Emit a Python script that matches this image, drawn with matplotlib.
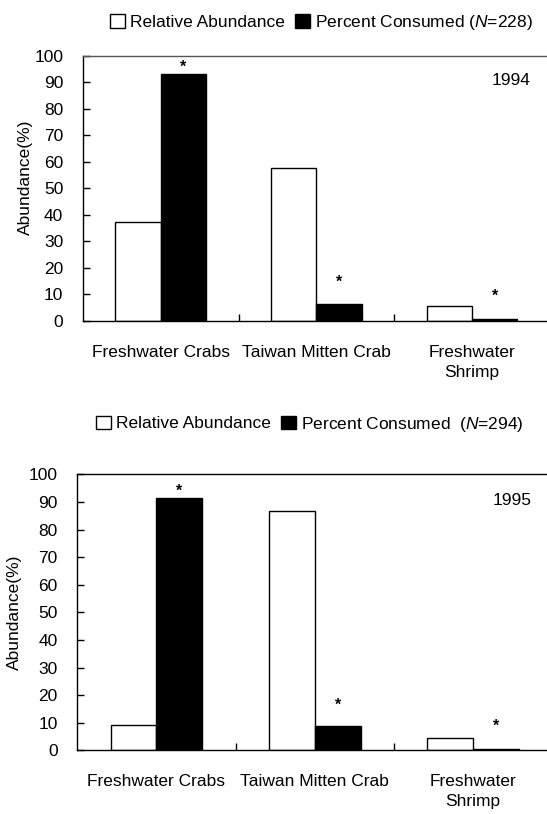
import matplotlib
matplotlib.use("Agg")
import matplotlib.pyplot as plt
from matplotlib.patches import Patch
import numpy as np

plt.rcParams['font.family'] = ['Liberation Sans', 'DejaVu Sans']
plt.rcParams['mathtext.fontset'] = 'custom'
plt.rcParams['mathtext.it'] = 'Liberation Sans:italic'
plt.rcParams['mathtext.rm'] = 'Liberation Sans'

categories = ["Freshwater Crabs", "Taiwan Mitten Crab", "Freshwater\nShrimp"]
years = ["1994", "1995"]
n_values = [228, 294]
abundance_1994 = [37.4, 57.6, 5.5]
consumed_1994 = [93.2, 6.3, 0.9]
abundance_1995 = [9.3, 86.6, 4.6]
consumed_1995 = [91.3, 8.8, 0.5]
stars_1994 = [95.6, 14.5, 9.4]
stars_1995 = [94.0, 16.4, 8.8]

FS = 12.5
fig = plt.figure(figsize=(5.47, 8.14), dpi=100)
W, H = 547, 814

def px_axes(l, t, r, b):
    return fig.add_axes([l / W, 1 - b / H, (r - l) / W, (b - t) / H])

panels = [
    dict(rect=(82.7, 55.7, 550.1, 321.0), ab=abundance_1994, co=consumed_1994,
         st=stars_1994, year=years[0], n=n_values[0], leg_y=22.7, leg_x=110,
         ylab=(-0.106, 0.54), spine="#555555", nsep=" "),
    dict(rect=(77.3, 474.3, 552.3, 750.3), ab=abundance_1995, co=consumed_1995,
         st=stars_1995, year=years[1], n=n_values[1], leg_y=424, leg_x=96,
         ylab=(-0.116, 0.5), spine="black", nsep="  "),
]

x = np.arange(len(categories))
bw = 0.29
for p in panels:
    ax = px_axes(*p["rect"])
    ax.bar(x - bw / 2, p["ab"], bw, color="white", edgecolor="black", linewidth=1.0)
    ax.bar(x + bw / 2, p["co"], bw, color="black", edgecolor="black", linewidth=1.0)
    for xi, sy in zip(x, p["st"]):
        ax.text(xi + bw / 2, sy, "*", ha="center", va="center", fontsize=FS - 1,
                fontweight="bold")
    ax.set_xlim(-0.5, 2.5)
    ax.set_ylim(0, 100)
    ax.set_yticks(np.arange(0, 101, 10))
    ax.tick_params(axis="y", direction="in", length=5, width=1, labelsize=FS, pad=14)
    ax.set_xticks(x)
    ax.set_xticklabels(categories, fontsize=FS, linespacing=1.45)
    ax.tick_params(axis="x", which="major", length=0, pad=17)
    ax.set_xticks([0.5, 1.5], minor=True)
    ax.tick_params(axis="x", which="minor", direction="in", length=5, width=1)
    ax.spines["right"].set_visible(False)
    for s in ["top", "left", "bottom"]:
        ax.spines[s].set_linewidth(1.0)
    ax.spines["top"].set_color(p["spine"])
    ax.set_ylabel("Abundance(%)", fontsize=FS)
    ax.yaxis.set_label_coords(*p["ylab"])
    ax.text(0.916, 0.905, p["year"], transform=ax.transAxes, ha="center",
            va="center", fontsize=FS)
    handles = [Patch(facecolor="white", edgecolor="black", linewidth=1),
               Patch(facecolor="black", edgecolor="black", linewidth=1)]
    labels = ["Relative Abundance",
              "Percent Consumed%s($\\it{N}$=%d)" % (p["nsep"], p["n"])]
    fig.legend(handles, labels, loc="center left",
               bbox_to_anchor=(p["leg_x"] / W, 1 - p["leg_y"] / H),
               ncol=2, frameon=False, fontsize=FS, borderpad=0, borderaxespad=0,
               handlelength=0.85, handleheight=0.85, handletextpad=0.3,
               columnspacing=0.6)

fig.savefig("out.png", dpi=100)
